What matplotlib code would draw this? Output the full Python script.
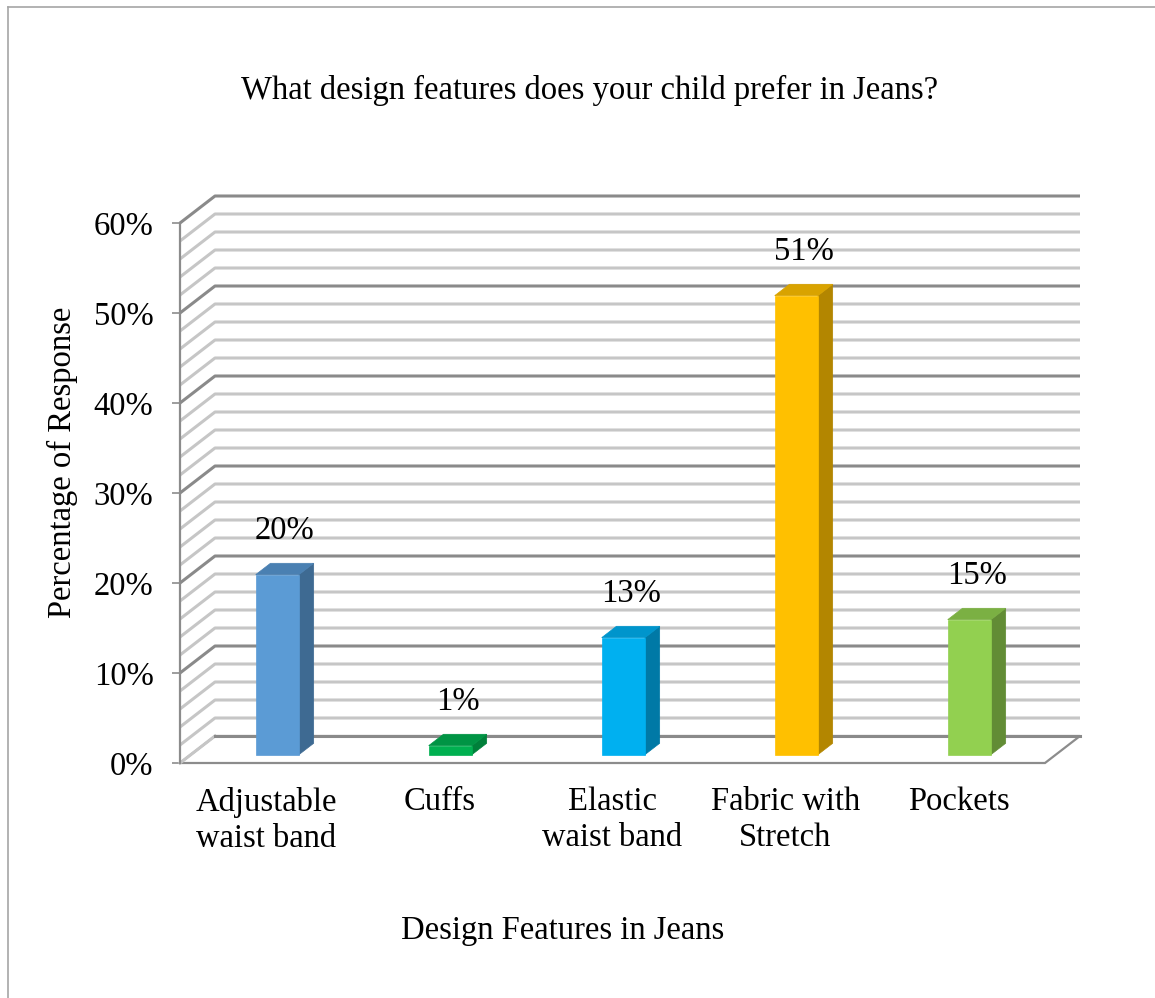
import matplotlib
matplotlib.use("Agg")
import matplotlib.pyplot as plt
from matplotlib.patches import Polygon
from matplotlib.lines import Line2D

# Survey results
categories = ["Adjustable\nwaist band", "Cuffs", "Elastic\nwaist band",
              "Fabric with\nStretch", "Pockets"]
values = [20, 1, 13, 51, 15]
value_labels = ["20%", "1%", "13%", "51%", "15%"]
y_ticks = [0, 10, 20, 30, 40, 50, 60]
y_tick_labels = ["0%", "10%", "20%", "30%", "40%", "50%", "60%"]

title = "What design features does your child prefer in Jeans?"
x_title = "Design Features in Jeans"
y_title = "Percentage of Response"

# Face colours: front, side, top
front_colors = ["#5B9BD5", "#00B050", "#00B0F0", "#FFC000", "#92D050"]
side_colors = ["#3E6A92", "#00803A", "#0079A6", "#B38600", "#628C35"]
top_colors = ["#4A80B2", "#009444", "#0095CC", "#D9A300", "#7BB043"]

FONT = "Liberation Serif"
FS = 23.5

# Oblique depth vector in data units (categories, percent)
DX, DY = 0.2023, 3.0
YMAX = 60
BAR_W = 0.25
D0, D1 = 0.31, 0.73   # bar depth range (fraction of floor depth)

W, H = 1155, 998
fig = plt.figure(figsize=(W / 100, H / 100), dpi=100)
fig.patch.set_facecolor("white")

# axes: front plane x -0.5..4.5 -> px 180..1045, y 0..60 -> px 763..223
x0, x1 = -0.5, 4.75
y0, y1 = 0, 64
px_per_cat = 173.0
px_per_pct = 9.0
ax = fig.add_axes([180 / W, (H - 763) / H,
                   (x1 - x0) * px_per_cat / W, (y1 - y0) * px_per_pct / H])
ax.set_xlim(x0, x1)
ax.set_ylim(y0, y1)
ax.patch.set_alpha(0)

def proj(x, y, d):
    return (x + d * DX, y + d * DY)

n = len(categories)
xl, xr = -0.5, n - 0.5

# floor
floor = Polygon([proj(xl, 0, 0), proj(xr, 0, 0), proj(xr, 0, 1), proj(xl, 0, 1)],
                closed=True, facecolor="white", edgecolor="#8C8C8C", lw=1.6,
                zorder=1, clip_on=False)
ax.add_patch(floor)

# gridlines on side wall and back wall
for v in range(2, YMAX + 1, 2):
    major = (v % 10 == 0)
    col = "#8A8A8A" if major else "#C6C6C6"
    xs = [xl, xl + DX, xr + DX]
    ys = [v, v + DY, v + DY]
    ax.plot(xs, ys, color=col, lw=2.2, zorder=2, clip_on=False,
            solid_capstyle="butt")
# floor back line & side
ax.plot([xl, xl + DX], [0, DY], color="#C6C6C6", lw=2.2, zorder=2, clip_on=False)
ax.plot([xl + DX, xr + DX], [DY, DY], color="#8A8A8A", lw=2.2, zorder=2, clip_on=False)

# bars
for i, (v, fc, sc, tc) in enumerate(zip(values, front_colors, side_colors, top_colors)):
    l, r = i - BAR_W / 2, i + BAR_W / 2
    front = [proj(l, 0, D0), proj(r, 0, D0), proj(r, v, D0), proj(l, v, D0)]
    side = [proj(r, 0, D0), proj(r, 0, D1), proj(r, v, D1), proj(r, v, D0)]
    top = [proj(l, v, D0), proj(r, v, D0), proj(r, v, D1), proj(l, v, D1)]
    for pts, c in ((side, sc), (top, tc), (front, fc)):
        ax.add_patch(Polygon(pts, closed=True, facecolor=c, edgecolor=c,
                             lw=0.5, zorder=5, clip_on=False))
    cx, _ = proj(i, 0, (D0 + D1) / 2)
    ax.text(cx, v + 5.8, value_labels[i], ha="center", va="center",
            fontsize=FS, family=FONT, color="black", zorder=6)

# axis styling
for s in ("top", "right", "bottom"):
    ax.spines[s].set_visible(False)
ax.spines["left"].set_bounds(0, YMAX)
ax.spines["left"].set_color("#8C8C8C")
ax.spines["left"].set_linewidth(1.6)
ax.spines["left"].set_zorder(3)
ax.set_yticks(y_ticks)
ax.set_yticklabels(y_tick_labels, fontsize=FS, family=FONT)
ax.tick_params(axis="y", direction="out", length=6, width=1.2,
               color="#8C8C8C", pad=13)
ax.set_xticks(range(n))
ax.set_xticklabels(categories, fontsize=FS, family=FONT, linespacing=1.25)
ax.tick_params(axis="x", length=0, pad=17)

# titles
fig.text(590 / W, 1 - 90 / H, title, ha="center", va="center",
         fontsize=FS, family=FONT)
fig.text(563 / W, 1 - 931 / H, x_title, ha="center", va="center",
         fontsize=FS, family=FONT)
fig.text(62 / W, 1 - 462 / H, y_title, ha="center", va="center",
         rotation=90, fontsize=FS, family=FONT)

# outer frame (top and left edges)
fig.add_artist(Line2D([8 / W, 1], [1 - 7 / H, 1 - 7 / H], color="#A6A6A6",
                      lw=1.2, transform=fig.transFigure))
fig.add_artist(Line2D([8 / W, 8 / W], [0, 1 - 7 / H], color="#A6A6A6",
                      lw=1.2, transform=fig.transFigure))

fig.savefig("out.png", dpi=100)
